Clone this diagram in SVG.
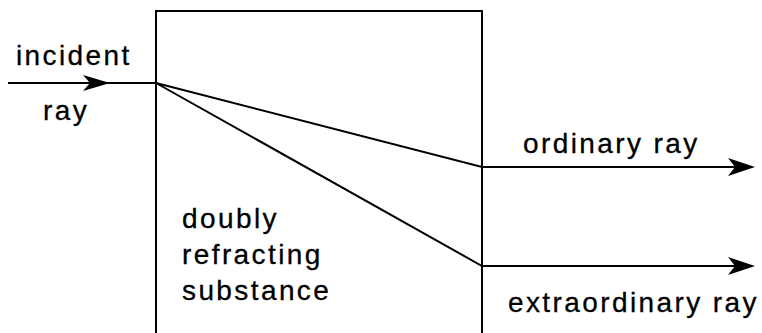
<svg xmlns="http://www.w3.org/2000/svg" width="762" height="333" viewBox="0 0 762 333">
<style>
.t{font-family:"Liberation Sans",Arial,sans-serif;font-size:28px;letter-spacing:2.4px;fill:#000;stroke:#000;stroke-width:0.3}
.l{stroke:#000;stroke-width:2;fill:none}
.h{fill:#000;stroke:none}
</style>
<rect width="762" height="333" fill="#fff"/>
<g id="substance">
<path class="l" d="M156,334 V11 H482 V334"/>
<text class="t" x="182" y="228">doubly</text>
<text class="t" x="182" y="264">refracting</text>
<text class="t" x="182" y="300">substance</text>
</g>
<g id="incident">
<text class="t" x="16" y="65">incident</text>
<text class="t" x="43" y="120">ray</text>
</g>
<g id="ordinary">
<text class="t" x="523" y="153">ordinary ray</text>
</g>
<g id="extraordinary">
<text class="t" x="508" y="312">extraordinary ray</text>
</g>
<g id="connectors">
<line class="l" x1="8" y1="83" x2="156" y2="83"/>
<path class="h" d="M110,83 L83,75 L90,83 L83,91 Z"/>
<path class="l" d="M156,83 L482,167 H740"/>
<path class="h" d="M755,167 L728,158 L735,167 L728,176 Z"/>
<path class="l" d="M156,83 L482,266 H740"/>
<path class="h" d="M755,266 L728,257 L735,266 L728,275 Z"/>
</g>
</svg>
